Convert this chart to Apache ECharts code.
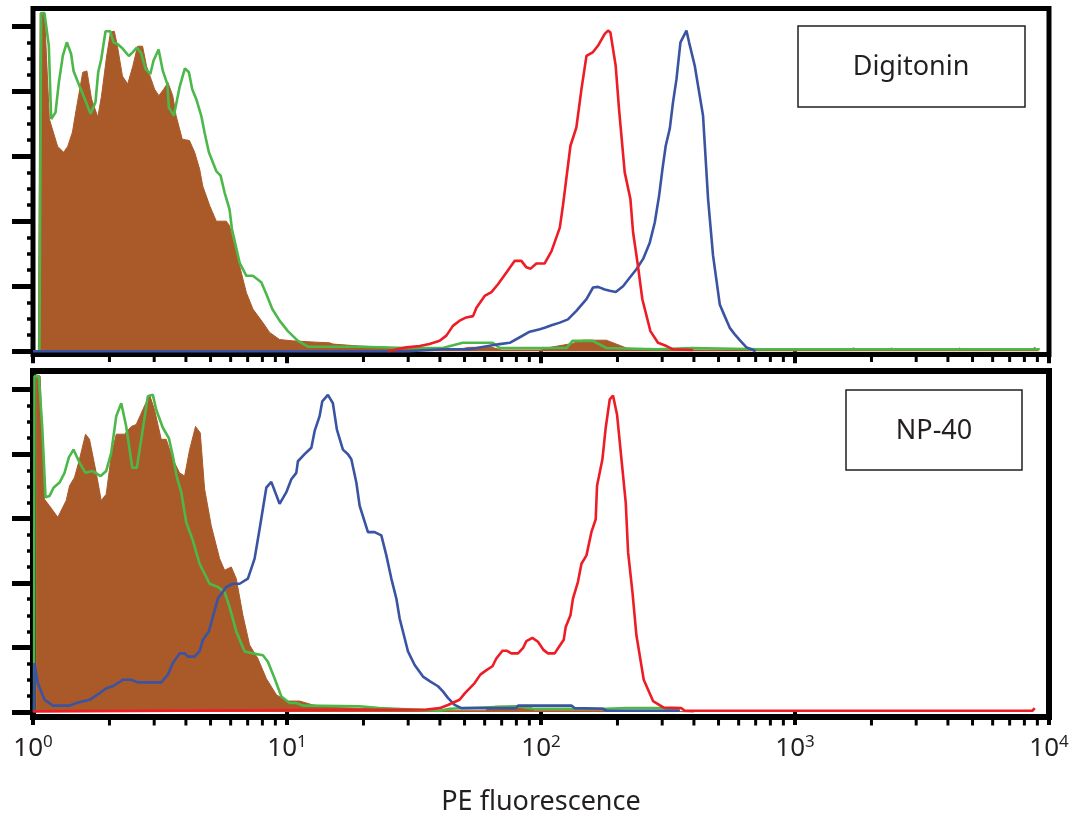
<!DOCTYPE html>
<html>
<head>
<meta charset="UTF-8">
<title>PE fluorescence</title>
<script src="https://cdn.jsdelivr.net/npm/echarts@6/dist/echarts.min.js"></script>
<style>
    html, body { margin: 0; padding: 0; background: #fff; }
    #chart { width: 1077px; height: 817px; }
</style>
</head>
<body>
<div id="chart"></div>
<script>
// axis ticks
var xMajor = [1, 10, 100, 1000, 10000];
var xMinor = [2, 3, 4, 5, 6, 7, 8, 9,
              20, 30, 40, 50, 60, 70, 80, 90,
              200, 300, 400, 500, 600, 700, 800, 900,
              2000, 3000, 4000, 5000, 6000, 7000, 8000, 9000];
var yMajor = [0, 1, 2, 3, 4, 5];
var yMinor = [0.25, 0.5, 0.75, 1.25, 1.5, 1.75, 2.25, 2.5, 2.75,
              3.25, 3.5, 3.75, 4.25, 4.5, 4.75];
var panelNames = ['Digitonin', 'NP-40'];

// Digitonin panel: [PE fluorescence, count]
var digFill = [[1.05,0],[1.067,5.2],[1.11,5.18],[1.16,3.57],[1.25,3.15],[1.32,3.06],[1.37,3.15],[1.43,3.37],[1.48,3.72],
    [1.57,4.29],[1.63,4.31],[1.70,3.88],[1.80,3.60],[1.86,3.92],[1.95,4.54],[2.02,4.91],[2.09,4.92],[2.15,4.69],[2.25,4.23],
    [2.36,4.11],[2.47,4.38],[2.58,4.69],[2.70,4.69],[2.80,4.38],[2.92,4.18],[3.01,4.03],[3.13,3.93],[3.27,4.03],[3.40,4.13],
    [3.55,3.93],[3.66,3.62],[3.87,3.26],[4.13,3.24],[4.33,3.06],[4.53,2.8],[4.66,2.54],[4.96,2.24],[5.27,2.0],[5.77,2.0],
    [5.94,1.93],[6.12,1.72],[6.51,1.31],[6.92,0.9],[7.34,0.65],[8.04,0.44],[8.54,0.29],[9.35,0.18],[10.5,0.16],[13.0,0.14],
    [14.7,0.13],[15.2,0.11],[19.3,0.08],[25,0.06],[33,0.03],[40,0.02],[46,0.02],[52,0.06],[64,0.06],[70,0.02],[100,0.02],
    [105,0.05],[133,0.12],[146,0.17],[181,0.17],[217,0.05],[250,0.02],[1600,0.02],[1700,0.05],[1800,0.02],[2300,0.02],
    [2400,0.05],[2500,0.02],[4300,0.02],[4450,0.05],[4600,0.02],[8500,0.02],[8800,0.06],[9100,0]];
var digGreen = [[1.06,0],[1.077,5.2],[1.11,5.2],[1.154,4.70],[1.179,3.57],[1.226,3.67],[1.264,4.13],[1.31,4.54],[1.359,4.75],
    [1.413,4.57],[1.444,4.31],[1.524,4.08],[1.61,3.85],[1.685,3.65],[1.762,3.83],[1.806,4.29],[1.856,4.49],[1.93,4.92],
    [2.014,4.92],[2.075,4.75],[2.158,4.72],[2.258,4.65],[2.384,4.54],[2.472,4.60],[2.563,4.67],[2.667,4.58],[2.773,4.34],
    [2.894,4.26],[2.983,4.47],[3.122,4.64],[3.245,4.31],[3.378,4.11],[3.428,3.75],[3.585,3.62],[3.776,4.06],[3.963,4.35],
    [4.11,4.29],[4.236,4.03],[4.39,3.88],[4.597,3.62],[4.738,3.36],[4.925,3.06],[5.266,2.77],[5.477,2.70],[5.679,2.44],
    [5.94,2.18],[6.07,1.88],[6.51,1.36],[6.92,1.16],[7.34,1.16],[7.92,1.06],[8.29,0.88],[8.75,0.65],[9.35,0.47],[10.08,0.31],
    [11.04,0.16],[12.09,0.07],[19.3,0.07],[30,0.05],[41,0.05],[49.2,0.13],[64.5,0.13],[68.8,0.05],[126,0.05],[133,0.16],
    [160,0.16],[181,0.05],[286,0.03],[396,0.05],[727,0.03],[9200,0.03]];
var digBlue = [[1,0],[30,0],[41.1,0.03],[52.4,0.03],[68.7,0.11],[75.3,0.13],[81.2,0.20],[90.3,0.30],[98.9,0.34],[103.4,0.36],
    [110,0.40],[118.6,0.44],[127.7,0.49],[137.8,0.62],[151,0.80],[160.3,0.98],[167.8,0.99],[178.2,0.95],[186.5,0.93],[197,0.91],
    [210.4,1.00],[223.4,1.13],[237.5,1.26],[252.4,1.42],[268,1.67],[280.5,1.98],[291.7,2.39],[300.7,2.80],[309.8,3.16],
    [321.3,3.42],[331,3.83],[341.4,4.18],[354,4.75],[373.8,4.93],[382.8,4.75],[403,4.39],[434.5,3.62],[454.8,2.34],
    [475.8,1.47],[505.6,0.72],[528.7,0.54],[553.6,0.36],[579.3,0.26],[606,0.17],[644,0.06],[674,0.03],[700,0]];
var digRed = [[25,0],[29.5,0.06],[33.3,0.08],[36.4,0.11],[39.9,0.16],[42.4,0.24],[45.0,0.39],[47.8,0.47],[50.8,0.52],
    [54.0,0.54],[55.7,0.67],[60.0,0.85],[63.8,0.91],[67.7,1.03],[73.1,1.21],[78.8,1.39],[83.7,1.39],[87.6,1.29],[91.0,1.27],
    [95.9,1.35],[103.4,1.35],[110,1.54],[118.6,1.90],[122,2.24],[130.6,3.16],[137.8,3.44],[144.3,4.03],[151,4.54],
    [160.3,4.60],[167.8,4.70],[178.2,4.88],[183.6,4.93],[187.6,4.90],[196.8,4.39],[202.9,3.72],[213.6,2.75],[224.9,2.34],
    [230.4,1.83],[240.9,1.31],[250.6,0.80],[269.6,0.31],[288.8,0.13],[311.9,0.08],[331,0.03],[397,0.02]];

// NP-40 panel
var npFill = [[1.03,0],[1.03,5.23],[1.067,5.21],[1.11,3.30],[1.161,3.20],[1.252,3.02],[1.351,3.28],[1.393,3.51],[1.457,3.64],
    [1.524,3.92],[1.61,4.31],[1.669,4.23],[1.774,3.71],[1.856,3.28],[1.942,3.38],[2.032,3.97],[2.127,4.31],[2.293,4.31],
    [2.437,4.43],[2.55,4.46],[2.706,4.69],[2.876,4.92],[3.009,4.69],[3.198,4.23],[3.346,4.23],[3.553,3.92],[3.776,3.71],
    [3.953,3.66],[4.136,4.07],[4.365,4.43],[4.556,4.33],[4.738,3.46],[5.032,2.89],[5.427,2.38],[5.679,2.20],[6.034,2.25],
    [6.314,2.07],[6.706,1.50],[7.125,1.04],[7.68,0.83],[8.29,0.52],[9.076,0.27],[9.94,0.17],[11.21,0.17],[12.65,0.11],
    [15.17,0.07],[19.3,0.06],[25,0.04],[35,0.02],[60,0.02],[66,0.09],[90,0.09],[95,0.02],[300,0.02],[400,0]];
var npGreen = [[1.01,0],[1.014,5.21],[1.054,5.21],[1.087,4.43],[1.12,3.33],[1.161,3.35],[1.204,3.48],[1.272,3.56],[1.331,3.71],
    [1.384,3.95],[1.444,4.07],[1.524,3.87],[1.61,3.71],[1.711,3.74],[1.845,3.66],[1.942,3.74],[2.032,4.02],[2.127,4.59],
    [2.226,4.79],[2.328,4.43],[2.459,3.79],[2.563,3.79],[2.668,4.23],[2.833,4.90],[2.964,4.92],[3.056,4.69],[3.245,4.41],
    [3.426,4.25],[3.553,3.97],[3.686,3.64],[3.835,3.41],[4.013,2.94],[4.261,2.66],[4.526,2.30],[4.957,1.99],[5.345,1.94],
    [5.679,1.86],[5.94,1.63],[6.314,1.25],[6.81,0.94],[7.34,0.91],[8.04,0.88],[8.41,0.78],[8.94,0.52],[9.50,0.24],
    [10.24,0.14],[10.88,0.14],[11.55,0.10],[19.3,0.09],[23.1,0.06],[39.9,0.02],[43.7,0.05],[80,0.09],[93,0.05],[181,0.05],
    [217,0.06],[302,0.06],[352,0.02]];
var npBlue = [[1.01,0],[1.014,0.76],[1.044,0.45],[1.11,0.19],[1.197,0.10],[1.393,0.10],[1.48,0.14],[1.669,0.19],[1.828,0.29],
    [1.942,0.37],[2.062,0.40],[2.258,0.50],[2.437,0.50],[2.587,0.46],[3.198,0.46],[3.396,0.58],[3.553,0.76],[3.776,0.91],
    [3.953,0.91],[4.072,0.86],[4.326,0.86],[4.526,0.94],[4.665,1.12],[4.925,1.25],[5.108,1.48],[5.345,1.76],[5.768,1.94],
    [6.122,1.99],[6.51,1.99],[7.015,2.07],[7.455,2.38],[7.80,2.84],[8.29,3.48],[8.673,3.57],[9.35,3.23],[9.94,3.41],
    [10.4,3.61],[10.88,3.71],[11.04,3.89],[11.73,4.00],[12.47,4.10],[12.85,4.36],[13.44,4.59],[13.77,4.82],[14.49,4.92],
    [15.16,4.79],[15.72,4.38],[16.6,4.07],[17.38,4.00],[17.92,3.92],[18.75,3.56],[19.32,3.20],[20.83,2.79],[22.13,2.79],
    [23.52,2.74],[24.61,2.43],[25.75,2.07],[26.95,1.76],[27.77,1.45],[28.61,1.25],[29.94,0.94],[31.81,0.73],[34.3,0.55],
    [36.45,0.48],[39.3,0.40],[41.1,0.32],[43.0,0.22],[45.7,0.11],[48.6,0.06],[80,0.06],[81.2,0.10],[131.8,0.10],
    [135.8,0.06],[175.4,0.05],[181,0.02],[352,0.02]];
var npRed = [[1.0,0.01],[35.4,0.04],[39.9,0.06],[43.0,0.11],[47.8,0.19],[50.1,0.29],[54.8,0.45],[57.7,0.58],[61.0,0.65],
    [64.4,0.71],[66.7,0.83],[70.5,0.95],[73.5,0.95],[76.4,0.91],[81.2,0.91],[84.9,0.99],[87.6,1.10],[92.5,1.15],[97.3,1.09],
    [102.5,0.96],[106.6,0.91],[113.2,0.91],[116.7,0.99],[122.9,1.12],[125.1,1.32],[130.6,1.50],[133.6,1.76],[139.8,2.02],
    [144.3,2.30],[151,2.43],[157.9,2.79],[164.2,2.99],[166.2,3.51],[174.5,3.92],[179.8,4.41],[186.5,4.85],[192.1,4.91],
    [199.3,4.61],[207.4,3.92],[215.6,3.25],[220.2,2.48],[229.1,1.86],[237.5,1.19],[253.8,0.50],[276.1,0.17],[304.3,0.07],
    [357.3,0.06],[368,0.02],[727,0.02],[8600,0.02],[8790,0.06]];

var panels = [
    {fill: digFill, green: digGreen, blue: digBlue, red: digRed},
    {fill: npFill, green: npGreen, blue: npBlue, red: npRed}
];

var ink = '#231f20';
var font = '"Noto Sans", "Open Sans", sans-serif';
var colors = {fill: '#a95a28', green: '#4cb84a', blue: '#3a53a3', red: '#ee1c25'};

// panel layout
var layout = [
    {top: 8.5, height: 346, yMin: -0.05, yMax: 5.27, border: 5, tickMajor: 12, tickMinor: 7.5},
    {top: 371, height: 348, yMin: -0.077, yMax: 5.29, border: 6, tickMajor: 13, tickMinor: 8.5}
];

var chart = echarts.init(document.getElementById('chart'));

var grid = [], xAxis = [], yAxis = [], series = [];

layout.forEach(function (p, i) {
    grid.push({
        left: 33, right: 28, top: p.top, height: p.height,
        show: true, borderColor: '#000', borderWidth: p.border, backgroundColor: 'transparent'
    });

    var isBottom = i === layout.length - 1;
    xAxis.push({
        type: 'log', logBase: 10, min: xMajor[0], max: xMajor[xMajor.length - 1],
        gridIndex: i, position: 'bottom',
        axisLine: {show: false},
        splitLine: {show: false},
        axisTick: {show: true, length: p.tickMajor, lineStyle: {color: '#000', width: 4}},
        axisLabel: isBottom ? {
            show: true, margin: 17,
            formatter: function (v) {
                return '{a|10}{b|' + Math.round(Math.log(v) / Math.LN10) + '}';
            },
            rich: {
                a: {fontFamily: font, fontSize: 26, lineHeight: 30, color: ink},
                b: {fontFamily: font, fontSize: 17, lineHeight: 16, verticalAlign: 'top', color: ink}
            }
        } : {show: false},
        name: isBottom ? 'PE fluorescence' : '',
        nameLocation: 'middle', nameGap: 72,
        nameTextStyle: {fontFamily: font, fontSize: 27, color: ink}
    });

    // major and minor y ticks share the grid
    yAxis.push({
        type: 'value', gridIndex: i, position: 'left', min: p.yMin, max: p.yMax,
        axisLine: {show: false}, splitLine: {show: false}, axisLabel: {show: false},
        axisTick: {show: true, customValues: yMajor, length: 21, lineStyle: {color: '#000', width: 5}}
    });
    yAxis.push({
        type: 'value', gridIndex: i, position: 'left', min: p.yMin, max: p.yMax,
        axisLine: {show: false}, splitLine: {show: false}, axisLabel: {show: false},
        axisTick: {show: true, customValues: yMinor, length: 6, lineStyle: {color: '#000', width: 3.5}}
    });

    var d = panels[i];
    series.push({
        name: panelNames[i] + ' fill', type: 'line', xAxisIndex: i, yAxisIndex: 2 * i,
        data: d.fill, symbol: 'none', silent: true,
        lineStyle: {color: colors.fill, width: 1},
        areaStyle: {color: colors.fill, opacity: 1}
    });
    ['green', 'blue', 'red'].forEach(function (c) {
        series.push({
            name: panelNames[i] + ' ' + c, type: 'line', xAxisIndex: i, yAxisIndex: 2 * i,
            data: d[c], symbol: 'none', silent: true,
            lineStyle: {color: colors[c], width: 2.6}
        });
    });

    // minor ticks of the log axis, placed through the axis scale
    series.push({
        type: 'custom', xAxisIndex: i, yAxisIndex: 2 * i, silent: true, z: 5,
        data: xMinor.map(function (v) { return [v, 0]; }),
        renderItem: function (params, api) {
            var cs = params.coordSys;
            var x = api.coord([api.value(0), p.yMin])[0];
            var y = cs.y + cs.height;
            return {
                type: 'line',
                shape: {x1: x, y1: y, x2: x, y2: y + p.tickMinor},
                style: {stroke: '#000', lineWidth: 3}
            };
        }
    });
});

var option = {
    animation: false,
    grid: grid,
    xAxis: xAxis,
    yAxis: yAxis,
    series: series,
    graphic: [
        {type: 'rect', shape: {x: 798, y: 26, width: 227, height: 81},
         style: {fill: '#fff', stroke: ink, lineWidth: 1.5}, z: 10},
        {type: 'text', x: 911, y: 67, z: 11,
         style: {text: panelNames[0], font: '27px "Noto Sans"', fill: ink, align: 'center', verticalAlign: 'middle'}},
        {type: 'rect', shape: {x: 846, y: 390, width: 176, height: 80},
         style: {fill: '#fff', stroke: ink, lineWidth: 1.5}, z: 10},
        {type: 'text', x: 934, y: 431, z: 11,
         style: {text: panelNames[1], font: '27px "Noto Sans"', fill: ink, align: 'center', verticalAlign: 'middle'}}
    ]
};

chart.setOption(option);
</script>
</body>
</html>
